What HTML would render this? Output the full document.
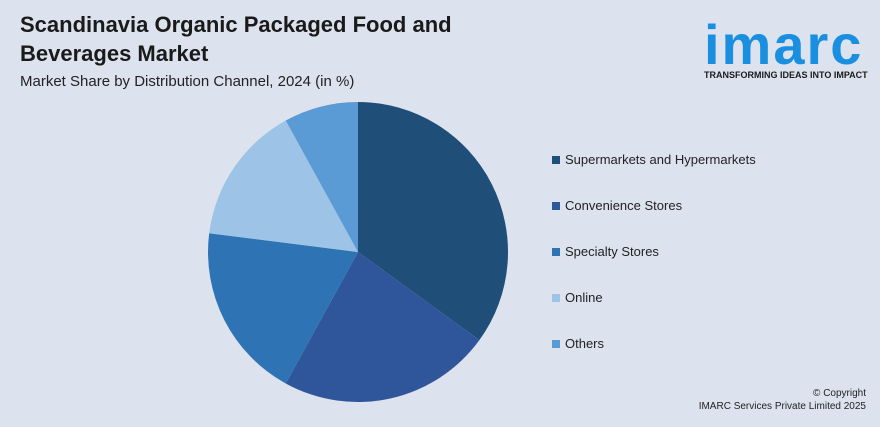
<!DOCTYPE html>
<html><head><meta charset="utf-8"><style>
body{margin:0;width:880px;height:427px;background:#dce3ef;font-family:"Liberation Sans",sans-serif;overflow:hidden;position:relative}
.t{position:absolute;left:20px;top:10px;font-size:22px;font-weight:bold;color:#1a1a1a;line-height:29px}
.s{position:absolute;left:20px;top:73px;font-size:15px;color:#222}
.leg{position:absolute;left:552px;font-size:13px;color:#222}
.leg span{display:inline-block;width:8px;height:8px;margin-right:5px}
.cp{position:absolute;right:14px;top:387px;font-size:10px;color:#222;text-align:right;line-height:13px}
</style></head><body>
<div class="t">Scandinavia Organic Packaged Food and<br>Beverages Market</div>
<div class="s">Market Share by Distribution Channel, 2024 (in %)</div>
<div style="position:absolute;left:704px;top:22px;width:170px">
<div style="font-size:56px;font-weight:bold;color:#1a8fe0;letter-spacing:2px;line-height:46px">imarc</div>
<div style="font-size:9px;font-weight:bold;color:#1a1a1a;margin-top:2px">TRANSFORMING IDEAS INTO IMPACT</div></div>
<svg id="pie" width="880" height="427" style="position:absolute;left:0;top:0"></svg>
<div id="legend"></div>
<div class="cp">© Copyright<br>IMARC Services Private Limited 2025</div>
<script>
const categories=["Supermarkets and Hypermarkets","Convenience Stores","Specialty Stores","Online","Others"];
const values=[35,23,19,15,8];
const colors=["#1f4e79","#2f559b","#2e74b5","#9dc3e6","#5b9bd5"];
const cx=358,cy=252,r=150;
const svg=document.getElementById('pie');
const total=values.reduce((a,b)=>a+b,0);
let a0=0;
function pt(a){return [cx+r*Math.sin(a),cy-r*Math.cos(a)];}
values.forEach((v,i)=>{
const a1=a0+v/total*2*Math.PI;
const p0=pt(a0),p1=pt(a1);
const path=document.createElementNS('http://www.w3.org/2000/svg','path');
path.setAttribute('d',`M${cx},${cy}L${p0[0]},${p0[1]}A${r},${r} 0 ${a1-a0>Math.PI?1:0} 1 ${p1[0]},${p1[1]}Z`);
path.setAttribute('fill',colors[i]);


svg.appendChild(path);
a0=a1;
});
const lg=document.getElementById('legend');
categories.forEach((c,i)=>{
const d=document.createElement('div');
d.className='leg';d.style.top=(152+i*46)+'px';


d.innerHTML=`<span style="background:${colors[i]}"></span>${c}`;
lg.appendChild(d);
});
</script>
</body></html>
